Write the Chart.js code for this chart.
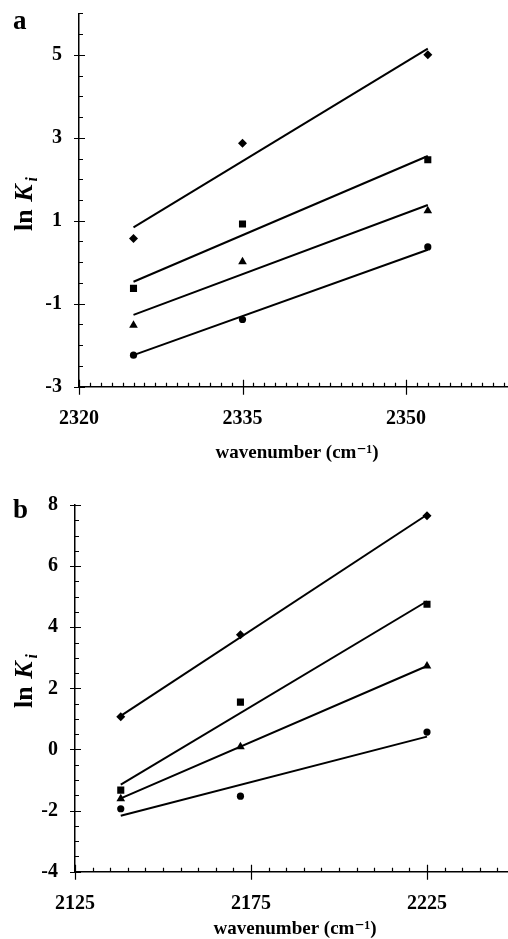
<!DOCTYPE html>
<html>
<head>
<meta charset="utf-8">
<script src="https://cdn.jsdelivr.net/npm/chart.js@4.4.1/dist/chart.umd.min.js"></script>
<style>
  html, body { margin: 0; padding: 0; background: #fff; overflow: hidden; }
  #wrap { width: 508px; height: 939px; overflow: hidden; }
  canvas { display: block; }
</style>
</head>
<body>
<div id="wrap">
  <canvas id="chartA" width="520" height="470"></canvas>
  <canvas id="chartB" width="520" height="469"></canvas>
</div>
<script>
// Panel a data
const wavenumberA = [2325, 2335, 2352];
const diamondA = [0.57, 2.87, 5.0];
const squareA = [-0.63, 0.92, 2.47];
const triangleA = [-1.52, 0.01, 1.24];
const circleA = [-2.24, -1.38, 0.37];
// fitted lines, panel a (end points)
const fitXA = [2325, 2352];
const fitDiamondA = [0.84, 5.15];
const fitSquareA = [-0.47, 2.56];
const fitTriangleA = [-1.27, 1.38];
const fitCircleA = [-2.24, 0.3];

// Panel b data
const wavenumberB = [2138, 2172, 2225];
const diamondB = [1.07, 3.75, 7.65];
const squareB = [-1.33, 1.55, 4.75];
const triangleB = [-1.61, 0.09, 2.73];
const circleB = [-1.94, -1.53, 0.57];
// fitted lines, panel b (end points)
const fitXB = [2138, 2225];
const fitDiamondB = [1.1, 7.68];
const fitSquareB = [-1.15, 4.85];
const fitTriangleB = [-1.6, 2.73];
const fitCircleB = [-2.17, 0.42];

// tick labels
const xLabelsA = [2320, 2335, 2350];
const yLabelsA = [-3, -1, 1, 3, 5];
const xLabelsB = [2125, 2175, 2225];
const yLabelsB = [-4, -2, 0, 2, 4, 6, 8];

const serif = "'Liberation Serif', 'DejaVu Serif', serif";

function pts(xs, ys) {
  return xs.map((x, i) => ({ x: x, y: ys[i] }));
}

function markerSet(xs, ys, style, radius) {
  return {
    data: pts(xs, ys),
    showLine: false,
    pointStyle: style,
    pointRadius: radius,
    pointBackgroundColor: '#000',
    pointBorderColor: '#000',
    pointBorderWidth: 0,
  };
}

function fitSet(xs, ys) {
  return {
    data: pts(xs, ys),
    showLine: true,
    borderColor: '#000',
    borderWidth: 2,
    pointRadius: 0,
    fill: false,
  };
}

// draws the small tick marks on both axes
const tickMarks = {
  id: 'tickMarks',
  afterDraw(chart, args, opts) {
    const ctx = chart.ctx;
    const xs = chart.scales.x;
    const ys = chart.scales.y;
    const area = chart.chartArea;
    ctx.save();
    ctx.strokeStyle = '#000';
    ctx.lineWidth = 1.2;
    ctx.beginPath();
    xs.ticks.forEach((t) => {
      const px = Math.round(xs.getPixelForValue(t.value)) + 0.5;
      const major = opts.xMajor.includes(t.value);
      ctx.moveTo(px, area.bottom + (major ? 8 : 0));
      ctx.lineTo(px, area.bottom - (major ? 7 : 4));
    });
    ys.ticks.forEach((t) => {
      const py = Math.round(ys.getPixelForValue(t.value)) + 0.5;
      const major = opts.yMajor.includes(t.value);
      ctx.moveTo(area.left - (major ? 5 : 0), py);
      ctx.lineTo(area.left + (major ? 6 : 4), py);
    });
    ctx.stroke();
    ctx.restore();
  },
};

// panel letter and the "ln K_i" axis title
const panelText = {
  id: 'panelText',
  afterDraw(chart, args, opts) {
    const ctx = chart.ctx;
    ctx.save();
    ctx.fillStyle = '#000';
    ctx.textBaseline = 'alphabetic';
    ctx.font = 'bold 27px ' + serif;
    ctx.fillText(opts.letter, 13, opts.letterY);

    const parts = [
      { t: 'ln ', f: 'bold 26px ' + serif, dy: 0, gap: 1 },
      { t: 'K', f: 'italic bold 26px ' + serif, dy: 0, gap: 3 },
      { t: 'i', f: 'italic bold 16px ' + serif, dy: 5, gap: 0 },
    ];
    let total = 0;
    parts.forEach((p) => {
      ctx.font = p.f;
      p.w = ctx.measureText(p.t).width;
      total += p.w + p.gap;
    });
    ctx.translate(32, opts.titleY);
    ctx.rotate(-Math.PI / 2);
    let x = -total / 2;
    parts.forEach((p) => {
      ctx.font = p.f;
      ctx.fillText(p.t, x, p.dy);
      x += p.w + p.gap;
    });
    ctx.restore();
  },
};

function noPad(s) {
  s.paddingTop = 0;
  s.paddingBottom = 0;
  s.paddingLeft = 0;
  s.paddingRight = 0;
}

function makeChart(id, cfg) {
  return new Chart(document.getElementById(id), {
    type: 'scatter',
    data: { datasets: cfg.datasets },
    options: {
      responsive: false,
      animation: false,
      devicePixelRatio: 1,
      layout: { padding: cfg.padding },
      plugins: {
        legend: { display: false },
        tooltip: { enabled: false },
        tickMarks: { xMajor: cfg.xMajor, yMajor: cfg.yMajor },
        panelText: { letter: cfg.letter, letterY: cfg.letterY, titleY: cfg.titleY },
      },
      scales: {
        x: {
          type: 'linear',
          min: cfg.xMin,
          max: cfg.xMax,
          grid: { display: false, drawTicks: false },
          border: { display: true, color: '#000', width: 1.5 },
          ticks: {
            stepSize: cfg.xStep,
            autoSkip: false,
            maxRotation: 0,
            padding: 20,
            color: '#000',
            font: { family: serif, size: 20, weight: 'bold' },
            callback: (v) => (cfg.xMajor.includes(v) ? String(v) : ''),
          },
          title: {
            display: true,
            text: 'wavenumber (cm\u207B\u00B9)',
            color: '#000',
            font: { family: serif, size: 19, weight: 'bold', lineHeight: 1 },
            padding: { top: 0, bottom: cfg.titlePad },
          },
          afterFit: (s) => {
            s.height = cfg.xHeight;
            noPad(s);
          },
        },
        y: {
          type: 'linear',
          min: cfg.yMin,
          max: cfg.yMax,
          grid: { display: false, drawTicks: false },
          border: { display: true, color: '#000', width: 1.5 },
          ticks: {
            stepSize: 0.5,
            autoSkip: false,
            padding: 17,
            color: '#000',
            font: { family: serif, size: 20, weight: 'bold' },
            callback: (v) => (cfg.yMajor.includes(v) ? String(v) : ''),
          },
          afterFit: (s) => {
            s.width = cfg.yWidth;
            noPad(s);
          },
        },
      },
    },
    plugins: [tickMarks, panelText],
  });
}

makeChart('chartA', {
  datasets: [
    fitSet(fitXA, fitDiamondA),
    fitSet(fitXA, fitSquareA),
    fitSet(fitXA, fitTriangleA),
    fitSet(fitXA, fitCircleA),
    markerSet(wavenumberA, diamondA, 'rectRot', 4.5),
    markerSet(wavenumberA, squareA, 'rect', 5),
    markerSet(wavenumberA, triangleA, 'triangle', 5),
    markerSet(wavenumberA, circleA, 'circle', 3.6),
  ],
  padding: { top: 13.3, right: 4, bottom: 0, left: 0 },
  xMin: 2320, xMax: 2360, xStep: 1, xMajor: xLabelsA,
  yMin: -3, yMax: 6, yMajor: yLabelsA,
  xHeight: 83.3, yWidth: 79, titlePad: 7,
  letter: 'a', letterY: 29, titleY: 204,
});

makeChart('chartB', {
  datasets: [
    fitSet(fitXB, fitDiamondB),
    fitSet(fitXB, fitSquareB),
    fitSet(fitXB, fitTriangleB),
    fitSet(fitXB, fitCircleB),
    markerSet(wavenumberB, diamondB, 'rectRot', 4.5),
    markerSet(wavenumberB, squareB, 'rect', 5),
    markerSet(wavenumberB, triangleB, 'triangle', 5),
    markerSet(wavenumberB, circleB, 'circle', 3.6),
  ],
  padding: { top: 35, right: 3.3, bottom: 0, left: 0 },
  xMin: 2125, xMax: 2250, xStep: 5, xMajor: xLabelsB,
  yMin: -4, yMax: 8, yMajor: yLabelsB,
  xHeight: 67.3, yWidth: 75, titlePad: 0,
  letter: 'b', letterY: 48, titleY: 211,
});
</script>
</body>
</html>
